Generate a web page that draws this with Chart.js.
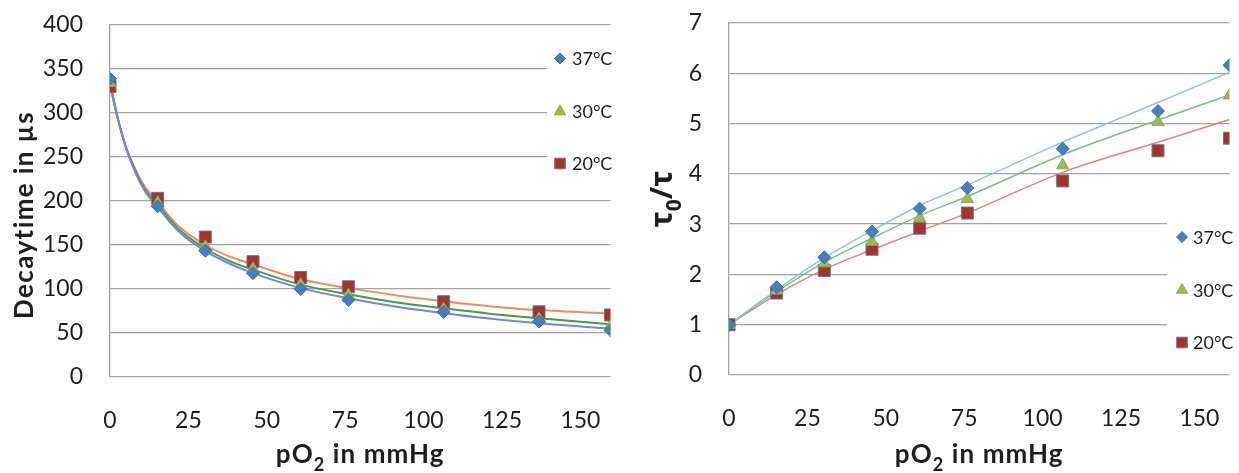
<!DOCTYPE html>
<html>
<head>
<meta charset="utf-8">
<script src="https://cdn.jsdelivr.net/npm/chart.js@4.4.1/dist/chart.umd.min.js"></script>
<style>
  html, body { margin: 0; padding: 0; background: #ffffff; }
  #wrap { position: relative; width: 1239px; height: 473px; overflow: hidden; }
  .panel { position: absolute; top: 0; height: 473px; }
  canvas { display: block; }
</style>
</head>
<body>
<div id="wrap">
  <div class="panel" style="left:0;width:620px"><canvas id="decay" width="620" height="473"></canvas></div>
  <div class="panel" style="left:620px;width:619px"><canvas id="ratio" width="619" height="473"></canvas></div>
</div>
<script>
// Oxygen partial pressures of the calibration gases (mmHg)
const pO2 = [0, 15.2, 30.4, 45.6, 60.8, 76, 106.4, 136.8, 159.6];
const xTickValues = [0, 25, 50, 75, 100, 125, 150];
const tempLabels = ['37°C', '30°C', '20°C'];

// Measured decay times (µs)
const decay37 = [339, 194, 143.5, 118, 100, 87.5, 74, 63, 53];
const decay30 = [334, 198, 148, 123, 105, 93, 77, 66, 58];
const decay20 = [330, 203, 159, 131, 113, 102.5, 85.5, 74, 70.5];

// Fitted decay-time curves (µs)
const fitX = [0, 2, 5, 8, 11, 15.2, 22, 30.4, 38, 45.6, 60.8, 76, 91, 106.4, 121, 136.8, 159.6];
const decayFit37 = [336, 302, 261, 233, 212, 193, 165, 143, 129, 118, 101, 89.5, 80, 72.5, 66.5, 61, 55];
const decayFit30 = [334, 301, 262, 235, 214, 196, 168, 146, 132, 122, 105, 94, 85, 78, 72, 66.7, 60];
const decayFit20 = [332, 300, 263, 237, 217, 199, 171, 150, 137, 128, 111, 101, 93, 86, 80.5, 76, 72];

// Stern-Volmer ratio tau0/tau
const ratio37 = [1, 1.745, 2.34, 2.85, 3.31, 3.72, 4.50, 5.25, 6.16];
const ratio30 = [1, 1.68, 2.22, 2.65, 3.12, 3.50, 4.17, 5.03, 5.56];
const ratio20 = [1, 1.63, 2.08, 2.50, 2.92, 3.22, 3.86, 4.46, 4.71];

// Fitted ratio curves
const ratioFit37 = [1, 1.70, 2.33, 2.87, 3.37, 3.78, 4.63, 5.42, 6.02];
const ratioFit30 = [1, 1.66, 2.24, 2.72, 3.17, 3.55, 4.38, 5.07, 5.57];
const ratioFit20 = [1, 1.60, 2.10, 2.49, 2.86, 3.22, 4.03, 4.63, 5.08];

const decayTicks = [0, 50, 100, 150, 200, 250, 300, 350, 400];
const ratioTicks = [0, 1, 2, 3, 4, 5, 6, 7];

const FONT = 'Lato, "Noto Sans", sans-serif';
const TEXT = '#1e1e1e';
const GRID = '#a4a4a4';

const markerStyles = [
  { pointStyle: 'rectRot', radius: 6.5, bg: '#4a7ebb', border: '#3d6ea8', legendRadius: 5.5 },
  { pointStyle: 'triangle', radius: 7, bg: '#9bbb59', border: '#8daa50', legendRadius: 6.5 },
  { pointStyle: 'rect', radius: 8.5, bg: '#a5322c', border: '#6a7890', legendRadius: 7.5 }
];

const pairs = (xs, ys) => xs.map((x, i) => ({ x, y: ys[i] }));

function markerSets(series) {
  return series.map((ys, i) => ({
    label: tempLabels[i],
    data: pairs(pO2, ys),
    showLine: false,
    pointStyle: markerStyles[i].pointStyle,
    pointRadius: markerStyles[i].radius,
    pointBackgroundColor: markerStyles[i].bg,
    pointBorderColor: markerStyles[i].border,
    pointBorderWidth: 1,
    legendMarker: i,
    order: i
  }));
}

function fitSets(xs, series, colors, width) {
  return series.map((ys, i) => ({
    label: tempLabels[i] + ' fit',
    data: pairs(xs, ys),
    showLine: true,
    borderColor: colors[i],
    borderWidth: width,
    pointRadius: 0,
    cubicInterpolationMode: 'monotone',
    order: 10 + i
  }));
}

// Text with subscript pieces, centred on cx, on the given baseline
function drawRich(ctx, parts, cx, baseline, family, weight, size, spacing) {
  ctx.letterSpacing = spacing + 'px';
  const fonts = parts.map(p => `${weight} ${p.sub ? Math.round(size * 0.7) : size}px ${family}`);
  let w = 0;
  parts.forEach((p, i) => { ctx.font = fonts[i]; w += ctx.measureText(p.t).width; });
  let x = cx - w / 2;
  ctx.textAlign = 'left';
  ctx.textBaseline = 'alphabetic';
  parts.forEach((p, i) => {
    ctx.font = fonts[i];
    ctx.fillText(p.t, x, baseline + (p.sub ? size * 0.3 : 0));
    x += ctx.measureText(p.t).width;
  });
  ctx.letterSpacing = '0px';
}

// Axis titles and the in-plot legend
const decor = {
  id: 'decor',
  beforeDatasetsDraw(chart, args, opts) {
    const ctx = chart.ctx;
    const b = opts.legendBox;
    ctx.save();
    ctx.fillStyle = '#ffffff';
    ctx.fillRect(b.x, b.y, b.w, b.h);
    ctx.restore();
  },
  afterDraw(chart, args, opts) {
    const ctx = chart.ctx;
    const area = chart.chartArea;
    ctx.save();
    ctx.fillStyle = TEXT;

    // legend entries
    const lg = opts.legend;
    chart.data.datasets.filter(d => d.legendMarker !== undefined).forEach((d, k) => {
      const m = markerStyles[d.legendMarker];
      const y = lg.ys[k];
      ctx.fillStyle = m.bg;
      ctx.strokeStyle = m.border;
      ctx.lineWidth = 1;
      Chart.helpers.drawPoint(ctx, { pointStyle: m.pointStyle, radius: m.legendRadius, rotation: 0, borderWidth: 1 }, lg.markerX, y);
      ctx.fillStyle = TEXT;
      ctx.font = `18px ${FONT}`;
      ctx.textAlign = 'left';
      ctx.textBaseline = 'middle';
      ctx.fillText(d.label, lg.textX, y + 1);
    });

    // x title
    ctx.fillStyle = TEXT;
    drawRich(ctx, opts.xTitle, (area.left + area.right) / 2, opts.xTitleBaseline, FONT, 'bold', 26, 1.1);

    // y title
    const yt = opts.yTitle;
    ctx.translate(yt.x, yt.y);
    ctx.rotate(-Math.PI / 2);
    drawRich(ctx, yt.parts, 0, 0, yt.family, 'bold', yt.size, yt.spacing);
    ctx.restore();
  }
};

function makeOptions(cfg) {
  const tickFont = { family: FONT, size: 23 };
  return {
    responsive: false,
    animation: false,
    layout: { padding: { top: cfg.top, right: cfg.right, left: 0, bottom: 0 } },
    plugins: {
      legend: { display: false },
      tooltip: { enabled: false },
      decor: cfg.decor
    },
    scales: {
      x: {
        type: 'linear',
        min: 0,
        max: pO2[pO2.length - 1],
        afterBuildTicks: s => { s.ticks = xTickValues.map(v => ({ value: v })); },
        ticks: { font: tickFont, color: TEXT, padding: 22, maxRotation: 0, autoSkip: false },
        grid: { display: false },
        border: { display: false },
        afterFit: s => { s.height = cfg.xHeight; s.paddingLeft = 0; s.paddingRight = 0; }
      },
      y: {
        type: 'linear',
        min: cfg.ticks[0],
        max: cfg.ticks[cfg.ticks.length - 1],
        afterBuildTicks: s => { s.ticks = cfg.ticks.map(v => ({ value: v })); },
        ticks: { font: tickFont, color: TEXT, padding: 27 },
        grid: { color: GRID, lineWidth: 1.3, drawTicks: false },
        border: { display: true, color: GRID, width: 1.3 },
        afterFit: s => { s.width = cfg.yWidth; s.paddingTop = 0; s.paddingBottom = 0; }
      }
    }
  };
}

const xTitleParts = [{ t: 'pO' }, { t: '2', sub: true }, { t: ' in mmHg' }];

new Chart(document.getElementById('decay'), {
  type: 'scatter',
  data: {
    datasets: [
      ...markerSets([decay37, decay30, decay20]),
      ...fitSets(fitX, [decayFit37, decayFit30, decayFit20], ['#7c80e2', '#3f9e46', '#ef8c64'], 2)
    ]
  },
  options: makeOptions({
    top: 25, right: 8, xHeight: 96, yWidth: 110, ticks: decayTicks,
    decor: {
      legendBox: { x: 547, y: 38, w: 73, h: 150 },
      legend: { markerX: 560, textX: 572, ys: [58.5, 111.5, 163.5] },
      xTitle: xTitleParts,
      xTitleBaseline: 463,
      yTitle: { parts: [{ t: 'Decaytime in µs' }], x: 33, y: 215, family: FONT, size: 26, spacing: 1.4 }
    }
  }),
  plugins: [decor]
});

new Chart(document.getElementById('ratio'), {
  type: 'scatter',
  data: {
    datasets: [
      ...markerSets([ratio37, ratio30, ratio20]),
      ...fitSets(pO2, [ratioFit37, ratioFit30, ratioFit20], ['#88c9e2', '#79c27a', '#e08282'], 1.5)
    ]
  },
  options: makeOptions({
    top: 23, right: 9, xHeight: 98, yWidth: 109, ticks: ratioTicks,
    decor: {
      legendBox: { x: 547, y: 200, w: 72, h: 162 },
      legend: { markerX: 562, textX: 573, ys: [237, 290, 342.5] },
      xTitle: xTitleParts,
      xTitleBaseline: 463,
      yTitle: { parts: [{ t: 'τ' }, { t: '0', sub: true }, { t: '/τ' }], x: 52, y: 199, family: '"Noto Sans", sans-serif', size: 30, spacing: 0 }
    }
  }),
  plugins: [decor]
});
</script>
</body>
</html>
